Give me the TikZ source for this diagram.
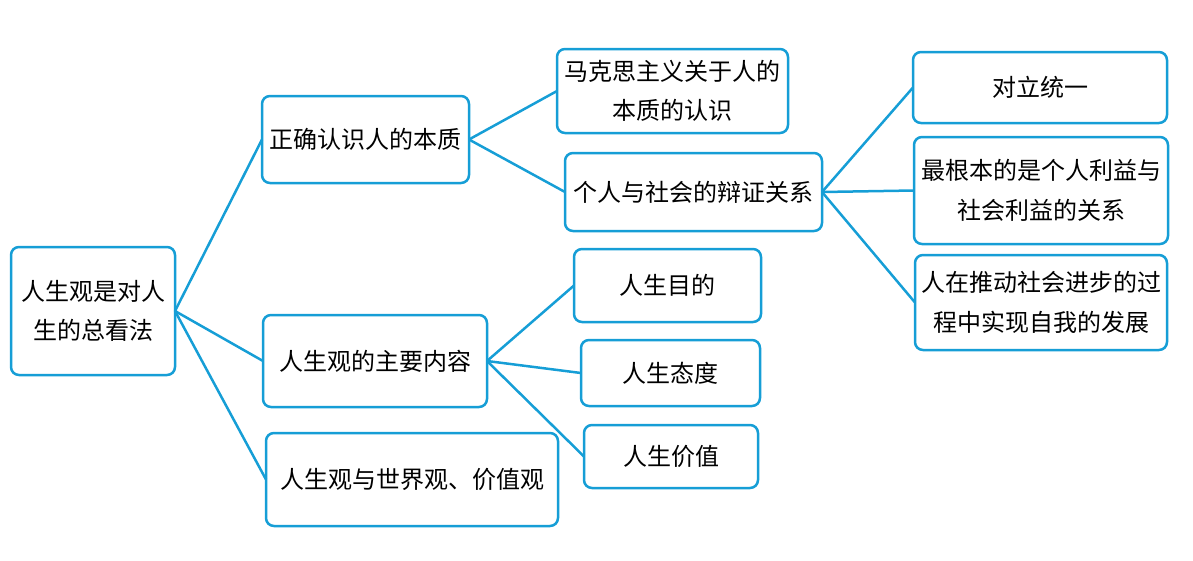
\documentclass[tikz,border=0pt]{standalone}
\usepackage{fontspec}
\newfontfamily\cjk{Noto Sans CJK SC}
\definecolor{mapblue}{RGB}{22,158,214}
\begin{document}
\begin{tikzpicture}[x=1pt,y=-1pt,
  box/.style={draw=mapblue, line width=2.5pt, rounded corners=8pt, fill=white,
    inner sep=0pt, outer sep=0pt, align=center,
    font=\cjk\fontsize{24}{39.5}\selectfont},
  link/.style={draw=mapblue, line width=2.5pt}]
\useasboundingbox (0,0) rectangle (1193,560);
\node[box, minimum width=164, minimum height=128] (root) at (93,311) {人生观是对人\\生的总看法};
\node[box, minimum width=207, minimum height=87] (n1) at (365.5,139.5) {正确认识人的本质};
\node[box, minimum width=224, minimum height=92] (n2) at (375,361) {人生观的主要内容};
\node[box, minimum width=292, minimum height=93] (n3) at (412,479.5) {人生观与世界观、价值观};
\node[box, minimum width=231, minimum height=84] (m1) at (672.5,91) {马克思主义关于人的\\本质的认识};
\node[box, minimum width=257, minimum height=78] (m2) at (693.5,192) {个人与社会的辩证关系};
\node[box, minimum width=254, minimum height=71] (k1) at (1040,87.5) {对立统一};
\node[box, minimum width=254, minimum height=107] (k2) at (1041,190.5) {最根本的是个人利益与\\社会利益的关系};
\node[box, minimum width=252, minimum height=95] (k3) at (1041,302.5) {人在推动社会进步的过\\程中实现自我的发展};
\node[box, minimum width=187, minimum height=73] (p1) at (667.5,285.5) {人生目的};
\node[box, minimum width=179, minimum height=66] (p2) at (670.5,373) {人生态度};
\node[box, minimum width=174, minimum height=63] (p3) at (671,456.5) {人生价值};
\draw[link] (root.east) -- (n1.west);
\draw[link] (root.east) -- (n2.west);
\draw[link] (root.east) -- (n3.west);
\draw[link] (n1.east) -- (m1.west);
\draw[link] (n1.east) -- (m2.west);
\draw[link] (m2.east) -- (k1.west);
\draw[link] (m2.east) -- (k2.west);
\draw[link] (m2.east) -- (k3.west);
\draw[link] (n2.east) -- (p1.west);
\draw[link] (n2.east) -- (p2.west);
\draw[link] (n2.east) -- (p3.west);
\end{tikzpicture}
\end{document}
